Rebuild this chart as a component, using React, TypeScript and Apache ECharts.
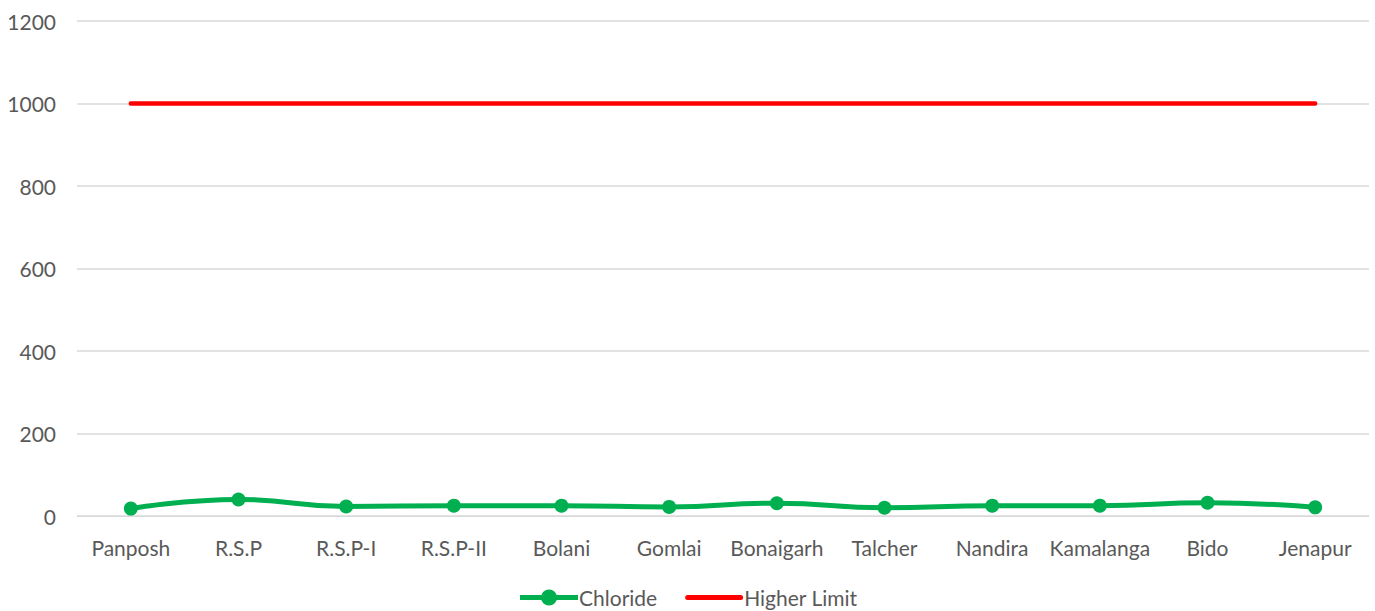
import React, { useEffect, useRef } from "react";
import * as echarts from "echarts";

const categories = ["Panposh", "R.S.P", "R.S.P-I", "R.S.P-II", "Bolani", "Gomlai", "Bonaigarh", "Talcher", "Nandira", "Kamalanga", "Bido", "Jenapur"];
const chloride = [18, 40, 23, 25, 25, 22, 31, 20, 25, 25, 32, 21];
const higherLimit = [1000, 1000, 1000, 1000, 1000, 1000, 1000, 1000, 1000, 1000, 1000, 1000];

export default function App() {
  const ref = useRef<HTMLDivElement>(null);
  useEffect(() => {
    const chart = echarts.init(ref.current!, null, { renderer: "svg" });
    const font = "Lato, 'Open Sans', sans-serif";
    chart.setOption({
      animation: false,
      grid: { left: 77, right: 6, top: 21, bottom: 95 },
      legend: {
        top: 582,
        left: "center",
        itemWidth: 58,
        itemHeight: 20,
        itemGap: 28,
        textStyle: { fontSize: 21, color: "#595959", fontFamily: font, padding: [0, 0, 0, -4] },
        data: [
          { name: "Chloride", lineStyle: { width: 5 } },
          {
            name: "Higher Limit",
            icon: "path://M0,0 L0.01,0 L0,0.01 Z M2.5,7.5 L55.5,7.5 A2.5,2.5 0 0 1 55.5,12.5 L2.5,12.5 A2.5,2.5 0 0 1 2.5,7.5 Z M58,20 L57.99,20 L58,19.99 Z",
            itemStyle: { color: "#FF0000" },
          },
        ],
      },
      xAxis: {
        type: "category",
        data: categories,
        boundaryGap: true,
        axisLine: { lineStyle: { color: "#D9D9D9" } },
        axisTick: { show: false },
        axisLabel: { fontSize: 21, color: "#595959", fontFamily: font, margin: 21, interval: 0 },
      },
      yAxis: {
        type: "value",
        min: 0,
        max: 1200,
        interval: 200,
        axisLine: { show: false },
        axisTick: { show: false },
        splitLine: { lineStyle: { color: "#D9D9D9", width: 1.5 } },
        axisLabel: { fontSize: 21, color: "#595959", fontFamily: font, margin: 21, formatter: (v: number) => String(v) },
      },
      series: [
        {
          name: "Chloride",
          type: "line",
          data: chloride,
          smooth: true,
          symbol: "circle",
          symbolSize: 14,
          lineStyle: { color: "#00B050", width: 5 },
          itemStyle: { color: "#00B050" },
        },
        {
          name: "Higher Limit",
          type: "line",
          data: higherLimit,
          symbol: "none",
          lineStyle: { color: "#FF0000", width: 4.5, cap: "round" },
          itemStyle: { color: "#FF0000" },
        },
      ],
    });
    return () => chart.dispose();
  }, []);
  return <div ref={ref} style={{ position: "fixed", left: 0, top: 0, width: 1375, height: 611, background: "#fff" }} />;
}
